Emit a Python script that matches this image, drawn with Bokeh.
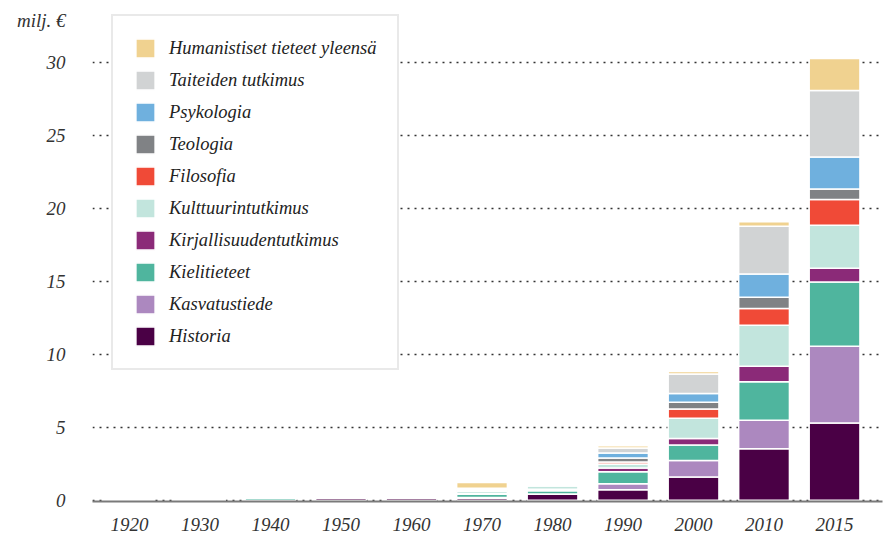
from bokeh.plotting import figure
from bokeh.models import Range1d, FixedTicker, Legend, LegendItem, ColumnDataSource
from bokeh.embed import file_html
from bokeh.resources import INLINE

years = ["1920", "1930", "1940", "1950", "1960", "1970", "1980", "1990", "2000", "2010", "2015"]

historia      = [0, 0, 0.00, 0.14, 0.15, 0.15, 0.41, 0.72, 1.60, 3.53, 5.30]
kasvatustiede = [0, 0, 0.00, 0.00, 0.00, 0.05, 0.03, 0.41, 1.13, 1.95, 5.25]
kielitieteet  = [0, 0, 0.14, 0.06, 0.06, 0.22, 0.22, 0.82, 1.06, 2.64, 4.40]
kirjallisuus  = [0, 0, 0.00, 0.00, 0.04, 0.05, 0.10, 0.27, 0.45, 1.06, 0.95]
kulttuuri     = [0, 0, 0.05, 0.00, 0.00, 0.15, 0.22, 0.27, 1.38, 2.81, 2.95]
filosofia     = [0, 0, 0.00, 0.00, 0.00, 0.07, 0.07, 0.14, 0.64, 1.15, 1.75]
teologia      = [0, 0, 0.00, 0.00, 0.06, 0.05, 0.03, 0.27, 0.46, 0.78, 0.72]
psykologia    = [0, 0, 0.00, 0.00, 0.07, 0.03, 0.05, 0.34, 0.59, 1.59, 2.20]
taiteet       = [0, 0, 0.00, 0.00, 0.00, 0.05, 0.10, 0.35, 1.34, 3.26, 4.55]
humanistiset  = [0, 0, 0.00, 0.00, 0.00, 0.40, 0.08, 0.15, 0.18, 0.31, 2.20]

series_names = ["Historia", "Kasvatustiede", "Kielitieteet", "Kirjallisuudentutkimus",
                "Kulttuurintutkimus", "Filosofia", "Teologia", "Psykologia",
                "Taiteiden tutkimus", "Humanistiset tieteet yleensä"]
series_values = [historia, kasvatustiede, kielitieteet, kirjallisuus, kulttuuri,
                 filosofia, teologia, psykologia, taiteet, humanistiset]
colors = ["#4a0045", "#ac88bf", "#4fb59e", "#8b2a78", "#c2e5dd",
          "#f04a37", "#808285", "#6fb0de", "#d1d3d4", "#f0d290"]
y_ticks = [0, 5, 10, 15, 20, 25, 30]
unit_label = "milj. €"
unit_label_pos = 32.9   # unit label sits above the top tick, in the tick-label column

FONT = "Liberation Serif"

x = list(range(len(years)))
data = {"x": x}
keys = []
for i, vals in enumerate(series_values):
    k = "s%d" % i
    keys.append(k)
    data[k] = vals
source = ColumnDataSource(data)

p = figure(width=886, height=535, output_backend="svg", toolbar_location=None,
           x_range=Range1d(-0.525, 10.68), y_range=Range1d(-0.08, 34.24),
           min_border_left=92, min_border_right=4, min_border_top=0, min_border_bottom=34)
p.outline_line_color = None
p.background_fill_color = "white"

renderers = p.vbar_stack(keys, x="x", width=0.72, source=source, color=colors,
                         line_color="white", line_width=1.5)

# axes
p.xaxis.ticker = FixedTicker(ticks=x)
p.xaxis.major_label_overrides = {i: y for i, y in enumerate(years)}
p.xaxis.axis_line_color = "#7a7a7a"
p.xaxis.axis_line_width = 2
p.xaxis.major_tick_line_color = None
p.xaxis.minor_tick_line_color = None
p.xaxis.major_label_standoff = 10
p.xaxis.major_label_text_font = FONT
p.xaxis.major_label_text_font_style = "italic"
p.xaxis.major_label_text_font_size = "19px"
p.xaxis.major_label_text_color = "#333333"

p.yaxis.ticker = FixedTicker(ticks=y_ticks + [unit_label_pos])
p.yaxis.major_label_overrides = {unit_label_pos: unit_label}
p.yaxis.axis_line_color = None
p.yaxis.major_tick_line_color = None
p.yaxis.minor_tick_line_color = None
p.yaxis.major_label_standoff = 21
p.yaxis.major_label_text_font = FONT
p.yaxis.major_label_text_font_style = "italic"
p.yaxis.major_label_text_font_size = "19px"
p.yaxis.major_label_text_color = "#333333"

p.xgrid.grid_line_color = None
p.ygrid.ticker = FixedTicker(ticks=y_ticks)
p.ygrid.grid_line_color = "#333333"
p.ygrid.grid_line_width = 1.6
p.ygrid.grid_line_dash = "2 5"

items = [LegendItem(label=series_names[i], renderers=[renderers[i]])
         for i in reversed(range(len(series_names)))]
legend = Legend(items=items, location=(19, 131))
legend.label_text_font = FONT
legend.label_text_font_style = "italic"
legend.label_text_font_size = "18.5px"
legend.label_text_color = "#222222"
legend.glyph_width = 24
legend.glyph_height = 24
legend.label_height = 24
legend.spacing = 8
legend.padding = 20
legend.margin = 0
legend.label_standoff = 12
legend.border_line_color = "#d4d4d4"
legend.border_line_width = 2
legend.background_fill_color = "white"
legend.background_fill_alpha = 1
p.add_layout(legend, "center")

open("out.html", "w").write(file_html(p, INLINE))
